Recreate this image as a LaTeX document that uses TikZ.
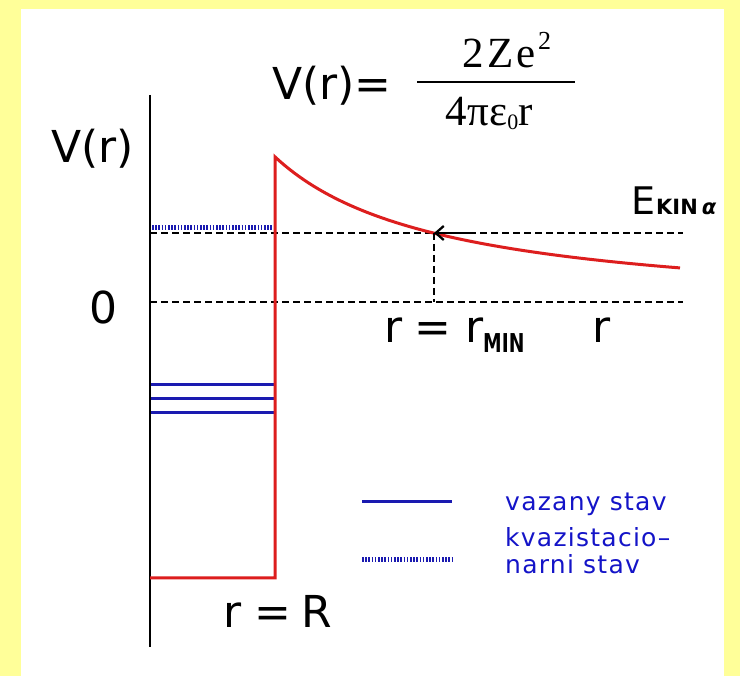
\documentclass[tikz,border=0pt]{standalone}
\usepackage{fontspec}
\setmainfont{DejaVu Sans}
\newfontfamily\serifx{Liberation Serif}
\newfontfamily\legfont[LetterSpace=5]{DejaVu Sans}
\usetikzlibrary{arrows.meta}
\definecolor{bgyellow}{HTML}{FFFF99}
\definecolor{potred}{HTML}{DD1E1E}
\definecolor{lvlblue}{HTML}{1A1AB0}
\definecolor{txtblue}{HTML}{1414C8}
\begin{document}
\begin{tikzpicture}[x=1pt,y=-1pt,
  lbl/.style={inner sep=0pt, font=\fontsize{44}{50}\selectfont},
  leg/.style={inner sep=0pt, anchor=base west, text=txtblue, font=\legfont\fontsize{25}{28}\selectfont},
  dashline/.style={black, line width=2.3pt, dash pattern=on 7pt off 4pt},
  potential/.style={potred, line width=3pt, line join=miter},
  bound/.style={lvlblue, line width=3pt},
  quasi/.style={lvlblue, line width=5pt, dash pattern=on 1.6pt off 1.6pt},
  axisline/.style={black, line width=2.6pt}]
\useasboundingbox (0,0) rectangle (740,676);
\fill[bgyellow] (0,0) rectangle (740,676);
\fill[white] (21,9) rectangle (724,676);

% axis
\coordinate (axtop) at (150,95);
\coordinate (axbot) at (150,647);
\draw[axisline] (axtop) -- (axbot);

% zero line and E_kin line
\coordinate (z0) at (150,302);
\coordinate (z1) at (683,302);
\draw[dashline] (z0) -- (z1);
\coordinate (e0) at (150,233);
\coordinate (e1) at (683,233);
\draw[dashline] (e0) -- (e1);

% quasi-stationary level
\coordinate (q0) at (152,228);
\coordinate (q1) at (273,228);
\draw[quasi] (q0) -- (q1);

% bound levels
\foreach \yy/\nm in {385/a,399/b,413/c}{
  \coordinate (b\nm0) at (151,\yy);
  \coordinate (b\nm1) at (274,\yy);
  \draw[bound] (b\nm0) -- (b\nm1);
}

% potential
\coordinate (w0) at (150,578);
\coordinate (w1) at (275,578);
\coordinate (w2) at (275,157);
\draw[potential] (w0) -- (w1) -- (w2)
  -- plot[domain=275:680, samples=80, smooth] (\x, {314.3 - 266.07/(0.01*(\x-105.9))});

% r_min marker
\coordinate (rmin) at (434,233);
\coordinate (rminax) at (434,302);
\coordinate (arrstart) at (474,233);
\draw[dashline] (rmin) -- (rminax);
\draw[black, line width=2.3pt, -{Straight Barb[length=8pt,width=14pt,line width=2.3pt]}] (arrstart) -- (rmin);

% labels
\node[lbl, anchor=base west] (vlab) at (51,163) {V(r)};
\node[lbl, anchor=center] (zero) at (103,307) {0};
\node[lbl, anchor=base west] (rmlab) at (384,343) {r\hspace{12pt}=\hspace{14pt}r\raisebox{-10pt}{\scalebox{0.72}[1]{\fontsize{26}{28}\selectfont\bfseries MIN}}};
\node[lbl, anchor=base west] (rlab) at (592,343) {r};
\node[lbl, anchor=base west] (eklab) at (631,215) {\fontsize{38}{40}\selectfont E\kern1pt{\fontsize{21}{22}\selectfont\bfseries KIN\kern4pt\itshape α}};
\node[lbl, anchor=base west] (rRlab) at (223,627) {r\hspace{13pt}=\hspace{10pt}R};

% formula
\node[lbl, anchor=base west] (vform) at (272,100) {V(r)=};
\coordinate (fr0) at (417,82);
\coordinate (fr1) at (575,82);
\draw[black, line width=2.6pt] (fr0) -- (fr1);
\node[inner sep=0pt, anchor=base west, font=\serifx\fontsize{43}{50}\selectfont] (num) at (462,68) {2\kern4pt Z\kern3pt e\kern2pt\raisebox{18pt}{\fontsize{26}{28}\selectfont 2}};
\node[inner sep=0pt, anchor=base, font=\serifx\fontsize{43}{50}\selectfont] (den) at (489,126) {4\kern1ptπε\raisebox{-4pt}{\fontsize{22}{24}\selectfont 0}r};

% legend
\coordinate (l0) at (362,502);
\coordinate (l1) at (452,502);
\draw[bound] (l0) -- (l1);
\coordinate (l2) at (362,560);
\coordinate (l3) at (452,560);
\draw[quasi] (l2) -- (l3);
\node[leg] (t1) at (505,511) {vazany stav};
\node[leg] (t2) at (505,547) {kvazistacio–};
\node[leg] (t3) at (505,574) {narni stav};
\end{tikzpicture}
\end{document}
